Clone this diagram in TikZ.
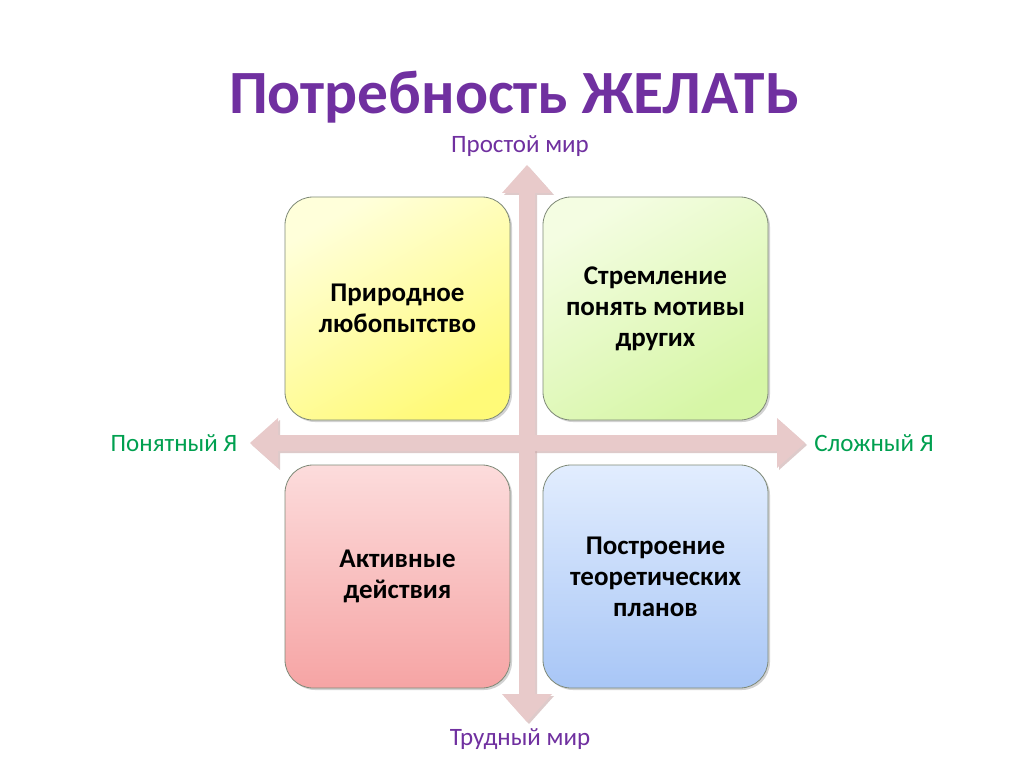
\documentclass[tikz,border=0pt]{standalone}
\usepackage{fontspec}
\setmainfont{Carlito}
\usetikzlibrary{shadows}
\definecolor{ttlpurple}{HTML}{7030A0}
\definecolor{axgreen}{HTML}{00A050}
\definecolor{axfill}{HTML}{E8CACA}
\definecolor{axshadow}{HTML}{C9A8A8}
\definecolor{boxborder}{HTML}{7F8A78}
\definecolor{yA}{HTML}{FFFFDA}
\definecolor{yB}{HTML}{FFFA78}
\definecolor{gA}{HTML}{F4FDE2}
\definecolor{gB}{HTML}{D6F6A6}
\definecolor{rA}{HTML}{FCDCDC}
\definecolor{rB}{HTML}{F6A4A4}
\definecolor{bA}{HTML}{E2EDFE}
\definecolor{bB}{HTML}{A8C6F6}
\begin{document}
\begin{tikzpicture}[x=1pt,y=-1pt,
  quad/.style={draw=boxborder, line width=0.8pt, rounded corners=28pt,
    minimum width=225pt, minimum height=223pt, align=center,
    font=\fontsize{27}{31}\selectfont\bfseries, text=black,
    drop shadow={opacity=0.35, shadow xshift=2pt, shadow yshift=-2pt}},
  axlabel/.style={font=\fontsize{25}{28}\selectfont},
  axarrow/.style={fill=axfill, draw=none}
]
\useasboundingbox (0,0) rectangle (1024,767);
\fill[white] (0,0) rectangle (1024,767);

% title
\node[font=\fontsize{61.5}{70}\selectfont\bfseries, text=ttlpurple] (title) at (514,97) {Потребность ЖЕЛАТЬ};

% axes shadows
\fill[axshadow, opacity=0.6, xshift=2pt, yshift=-2pt]
  (527,165) -- (552,193) -- (535,193) -- (535,694) -- (552,694) -- (527,722)
  -- (502,694) -- (519,694) -- (519,193) -- (502,193) -- cycle;
\fill[axshadow, opacity=0.6, xshift=2pt, yshift=-2pt]
  (250,443) -- (278,418) -- (278,435) -- (777,435) -- (777,418) -- (805,443)
  -- (777,468) -- (777,451) -- (278,451) -- (278,468) -- cycle;
% axes
\fill[axarrow]
  (527,165) -- (552,193) -- (535,193) -- (535,694) -- (552,694) -- (527,722)
  -- (502,694) -- (519,694) -- (519,193) -- (502,193) -- cycle;
\fill[axarrow]
  (250,443) -- (278,418) -- (278,435) -- (777,435) -- (777,418) -- (805,443)
  -- (777,468) -- (777,451) -- (278,451) -- (278,468) -- cycle;

% boxes
\node[quad, top color=yA, bottom color=yB, shading angle=30] (q1) at (397.5,308.5)
  {Природное\\любопытство};
\node[quad, top color=gA, bottom color=gB, shading angle=30] (q2) at (655.5,308.5)
  {Стремление\\понять мотивы\\других};
\node[quad, top color=rA, bottom color=rB] (q3) at (397.5,576.5)
  {Активные\\действия};
\node[quad, top color=bA, bottom color=bB] (q4) at (655.5,576.5)
  {Построение\\теоретических\\планов};

% axis labels
\node[axlabel, text=ttlpurple] (top) at (520,146) {Простой мир};
\node[axlabel, text=ttlpurple] (bottom) at (520,739) {Трудный мир};
\node[axlabel, text=axgreen] (left) at (174,443) {Понятный Я};
\node[axlabel, text=axgreen] (right) at (874,443) {Сложный Я};
\end{tikzpicture}
\end{document}
